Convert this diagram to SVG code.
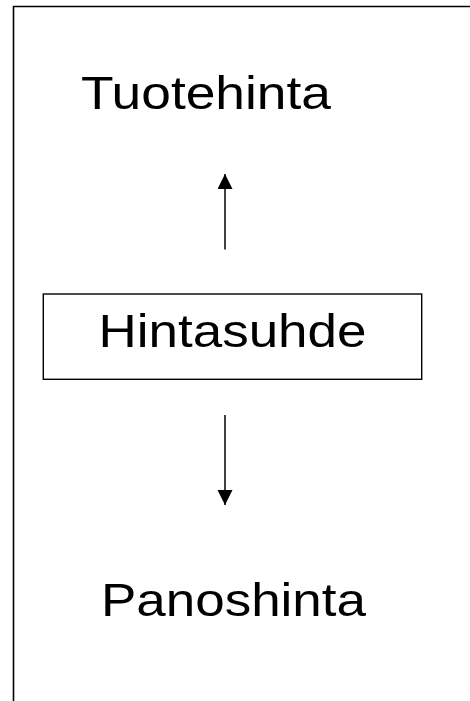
<svg xmlns="http://www.w3.org/2000/svg" width="470" height="701" viewBox="0 0 470 701">
<style>
.t{font-family:"Liberation Sans",Arial,sans-serif;font-size:46px;fill:#000}
.ln{stroke:#000;stroke-width:1.5;fill:none}
</style>
<defs>
<marker id="ah" markerUnits="userSpaceOnUse" markerWidth="16" markerHeight="16" refX="15" refY="7.5" orient="auto">
<path d="M0,0 L15,7.5 L0,15 Z" fill="#000"/>
</marker>
</defs>
<rect width="470" height="701" fill="#fff"/>
<path d="M13.5,710 L13.5,6.5 L480,6.5" stroke="#000" stroke-width="1.6" fill="none"/>
<g id="tuotehinta"><text class="t" x="81" y="109" textLength="250" lengthAdjust="spacingAndGlyphs">Tuotehinta</text></g>
<g id="hintasuhde">
<rect x="43.3" y="294" width="378.4" height="85.3" fill="none" stroke="#000" stroke-width="1.4"/>
<text class="t" x="98.5" y="347" textLength="268" lengthAdjust="spacingAndGlyphs">Hintasuhde</text>
</g>
<g id="panoshinta"><text class="t" x="101" y="616" textLength="265" lengthAdjust="spacingAndGlyphs">Panoshinta</text></g>
<g id="connectors">
<line class="ln" x1="225" y1="249.5" x2="225" y2="174" marker-end="url(#ah)"/>
<line class="ln" x1="225" y1="415" x2="225" y2="505" marker-end="url(#ah)"/>
</g>
</svg>
